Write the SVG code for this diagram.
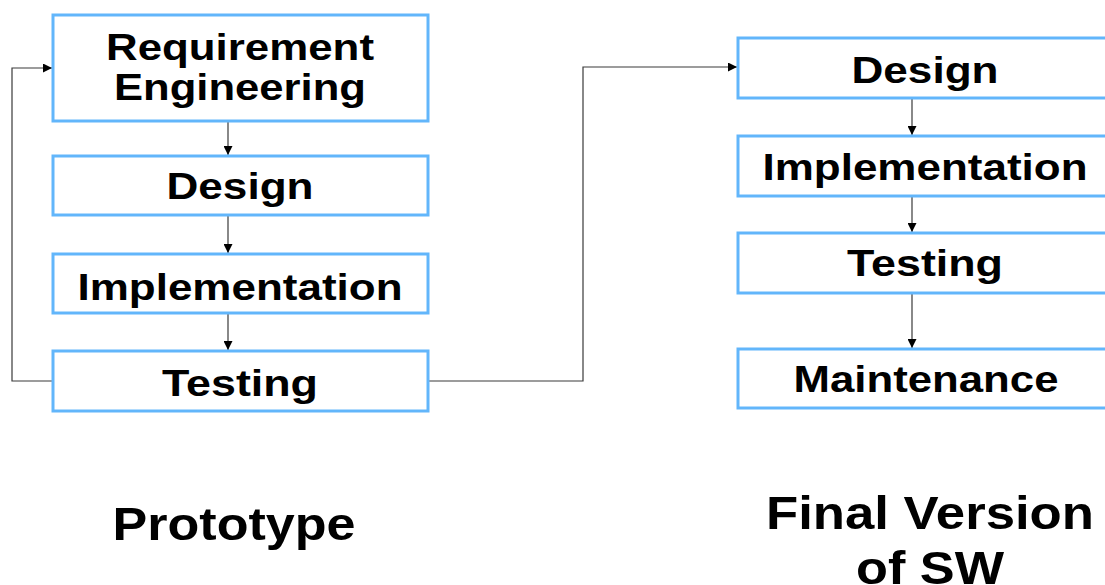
<svg xmlns="http://www.w3.org/2000/svg" width="1105" height="585" viewBox="0 0 1105 585">
  <style>
    .box { fill: #ffffff; stroke: #62b6fb; stroke-width: 3; }
    .lbl { font-family: "Liberation Sans", Arial, sans-serif; font-weight: bold; font-size: 36px; fill: #000; text-anchor: middle; }
    .title { font-family: "Liberation Sans", Arial, sans-serif; font-weight: bold; font-size: 46px; fill: #000; text-anchor: middle; }
    .wire { fill: none; stroke: #3a3a3a; stroke-width: 1.2; }
  </style>
  <defs>
    <marker id="arrow" viewBox="0 0 10 10" refX="10" refY="5" markerWidth="9" markerHeight="9" markerUnits="userSpaceOnUse" orient="auto">
      <path d="M0,0 L10,5 L0,10 Z" fill="#000"/>
    </marker>
  </defs>

  <rect width="1105" height="585" fill="#ffffff"/>

  <!-- connectors -->
  <g id="connectors">
    <line class="wire" x1="228" y1="122" x2="228" y2="155" marker-end="url(#arrow)"/>
    <line class="wire" x1="228" y1="216" x2="228" y2="253" marker-end="url(#arrow)"/>
    <line class="wire" x1="228" y1="314" x2="228" y2="350" marker-end="url(#arrow)"/>
    <polyline class="wire" points="52,381 12,381 12,68 52,68" marker-end="url(#arrow)"/>
    <polyline class="wire" points="429,381 583,381 583,67 737,67" marker-end="url(#arrow)"/>
    <line class="wire" x1="912" y1="99" x2="912" y2="135" marker-end="url(#arrow)"/>
    <line class="wire" x1="912" y1="197" x2="912" y2="232" marker-end="url(#arrow)"/>
    <line class="wire" x1="912" y1="294" x2="912" y2="348" marker-end="url(#arrow)"/>
  </g>

  <!-- prototype cycle -->
  <g id="proto-req">
    <rect class="box" x="53" y="15" width="375" height="106"/>
    <text class="lbl" x="240" y="60" textLength="268" lengthAdjust="spacingAndGlyphs">Requirement</text>
    <text class="lbl" x="240" y="100" textLength="252" lengthAdjust="spacingAndGlyphs">Engineering</text>
  </g>
  <g id="proto-design">
    <rect class="box" x="53" y="156" width="375" height="59"/>
    <text class="lbl" x="240" y="199" textLength="147" lengthAdjust="spacingAndGlyphs">Design</text>
  </g>
  <g id="proto-impl">
    <rect class="box" x="53" y="254" width="375" height="59"/>
    <text class="lbl" x="240" y="300" textLength="325" lengthAdjust="spacingAndGlyphs">Implementation</text>
  </g>
  <g id="proto-test">
    <rect class="box" x="53" y="351" width="375" height="60"/>
    <text class="lbl" x="240" y="396" textLength="156" lengthAdjust="spacingAndGlyphs">Testing</text>
  </g>

  <!-- final version chain -->
  <g id="final-design">
    <rect class="box" x="738" y="38" width="375" height="60"/>
    <text class="lbl" x="925" y="83" textLength="147" lengthAdjust="spacingAndGlyphs">Design</text>
  </g>
  <g id="final-impl">
    <rect class="box" x="738" y="136" width="375" height="60"/>
    <text class="lbl" x="925" y="180" textLength="325" lengthAdjust="spacingAndGlyphs">Implementation</text>
  </g>
  <g id="final-test">
    <rect class="box" x="738" y="233" width="375" height="60"/>
    <text class="lbl" x="925" y="276" textLength="156" lengthAdjust="spacingAndGlyphs">Testing</text>
  </g>
  <g id="final-maint">
    <rect class="box" x="738" y="349" width="375" height="59"/>
    <text class="lbl" x="926" y="392" textLength="265" lengthAdjust="spacingAndGlyphs">Maintenance</text>
  </g>

  <!-- captions -->
  <g id="caption-prototype">
    <text class="title" x="234" y="540" textLength="243" lengthAdjust="spacingAndGlyphs">Prototype</text>
  </g>
  <g id="caption-final">
    <text class="title" x="930" y="529" textLength="328" lengthAdjust="spacingAndGlyphs">Final Version</text>
    <text class="title" x="930" y="584" textLength="148" lengthAdjust="spacingAndGlyphs">of SW</text>
  </g>
</svg>
